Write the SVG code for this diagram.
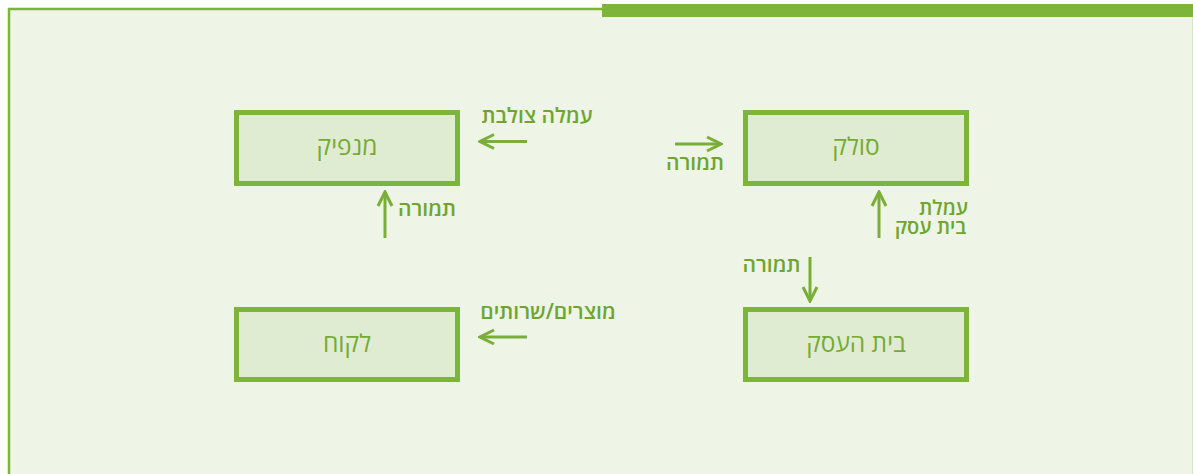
<svg xmlns="http://www.w3.org/2000/svg" width="1193" height="474" viewBox="0 0 1193 474">
  <defs>
    <marker id="head" viewBox="-16 -9 18 18" markerWidth="18" markerHeight="18" refX="0" refY="0" orient="auto" markerUnits="userSpaceOnUse">
      <path d="M-14,-7 L0,0 L-14,7" fill="none" stroke="#79ae38" stroke-width="3" stroke-linejoin="miter"/>
    </marker>
    <style>
      .box { fill: #e0ecd2; stroke: #7db43a; stroke-width: 5; }
      .name { font-family: "Open Sans", "DejaVu Sans", sans-serif; font-size: 24.5px; fill: #76aa36; text-anchor: middle; }
      .lbl { font-family: "Open Sans", "DejaVu Sans", sans-serif; font-size: 21px; font-weight: 600; fill: #6fa52f; text-anchor: middle; }
      .lbl2 { font-size: 20px; }
      .flow { stroke: #79ae38; stroke-width: 3; fill: none; marker-end: url(#head); }
    </style>
  </defs>

  <!-- page -->
  <rect x="0" y="0" width="1193" height="474" fill="#ffffff"/>
  <rect x="9" y="9" width="1190" height="470" fill="#eef4e6" stroke="#7db43a" stroke-width="2.5"/>
  <rect x="1192" y="9" width="1" height="465" fill="#d6e6c4"/>
  <rect x="602" y="4" width="591" height="13" fill="#7db43a"/>

  <!-- nodes -->
  <g id="issuer">
    <rect class="box" x="236.5" y="112.5" width="221" height="71"/>
    <text class="name" x="347" y="155">מנפיק</text>
  </g>
  <g id="acquirer">
    <rect class="box" x="745.5" y="112.5" width="221" height="71"/>
    <text class="name" x="856" y="155">סולק</text>
  </g>
  <g id="merchant">
    <rect class="box" x="745.5" y="309.5" width="221" height="70"/>
    <text class="name" x="856" y="352">בית העסק</text>
  </g>
  <g id="customer">
    <rect class="box" x="236.5" y="309.5" width="221" height="70"/>
    <text class="name" x="347" y="352">לקוח</text>
  </g>

  <!-- connectors -->
  <g id="connectors">
    <path class="flow" d="M527,141.5 H480"/>
    <path class="flow" d="M385,238 V192"/>
    <path class="flow" d="M675,144 H721"/>
    <path class="flow" d="M879,238 V192"/>
    <path class="flow" d="M810,257 V301"/>
    <path class="flow" d="M527,337 H480"/>
  </g>

  <!-- connector labels -->
  <g id="labels">
    <text class="lbl" x="537" y="123">עמלה צולבת</text>
    <text class="lbl" x="427" y="216">תמורה</text>
    <text class="lbl" x="695" y="170">תמורה</text>
    <text class="lbl lbl2"><tspan x="943.5" y="215">עמלת</tspan><tspan x="930.5" y="234">בית עסק</tspan></text>
    <text class="lbl" x="771.5" y="272">תמורה</text>
    <text class="lbl" x="548" y="319">מוצרים/שרותים</text>
  </g>
</svg>
